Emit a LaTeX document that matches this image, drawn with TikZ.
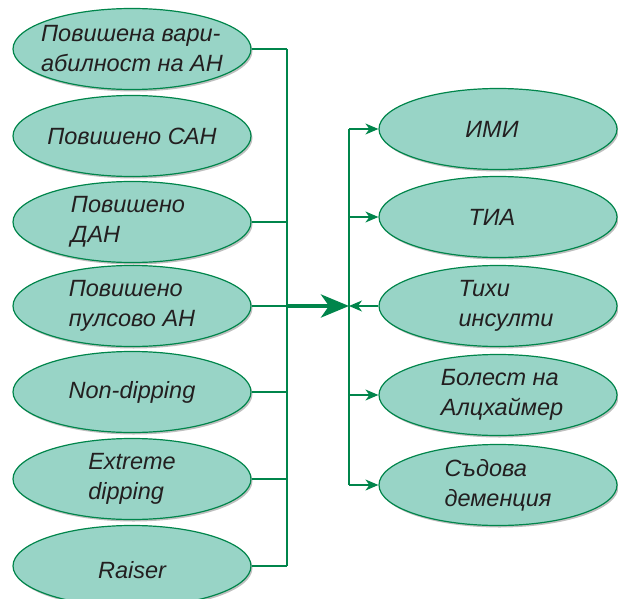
\documentclass[tikz,border=0pt]{standalone}
\usepackage{fontspec}
\setmainfont{Liberation Sans}
\usetikzlibrary{positioning}
\usetikzlibrary{arrows.meta}
\usetikzlibrary{shapes.geometric}
\usetikzlibrary{shadows}
\definecolor{ovalfill}{RGB}{152,212,198}
\definecolor{ovalline}{RGB}{0,133,75}
\definecolor{txt}{RGB}{35,31,32}
\tikzset{oval/.style = {ellipse, draw=ovalline, fill=ovalfill, line width=1.2pt,
                        minimum width=238pt, minimum height=81pt, inner sep=0pt,
                        drop shadow={shadow xshift=1.5pt, shadow yshift=-2pt,
                                     opacity=0.25, fill=black}}}
\tikzset{lbl/.style = {align=left, text=txt, inner sep=0pt,
                       font=\fontsize{23.5}{30}\selectfont\itshape}}
\tikzset{conn/.style = {draw=ovalline, line width=1.3pt}}
\tikzset{tick/.style = {draw=ovalline, line width=2.8pt}}
\tikzset{arr/.style = {conn, -{Stealth[length=13pt, width=11pt, inset=4pt]}}}
\tikzset{bigarr/.style = {draw=ovalline, line width=4.5pt,
                          -{Stealth[length=28pt, width=23pt, inset=8pt]}}}

\begin{document}
\begin{tikzpicture}[x=1pt, y=-1pt]
      \useasboundingbox (0,0) rectangle (618,599);
      % causes
      \node[oval, label={[lbl]center:{Повишена вари-\\абилност на АН}}] (varan) at (132,49) {};
      \node[oval, label={[lbl]center:Повишено САН}] (san) at (132,136) {};
      \node[oval, label={[lbl, xshift=-4pt]center:{Повишено\\ДАН}}] (dan) at (132,222) {};
      \node[oval, label={[lbl]center:{Повишено\\пулсово АН}}] (pulsan) at (132,306) {};
      \node[oval, label={[lbl]center:Non-dipping}] (nondip) at (132,392) {};
      \node[oval, label={[lbl]center:{Extreme\\dipping}}] (extdip) at (132,479) {};
      \node[oval, label={[lbl, yshift=-4pt]center:Raiser}] (raiser) at (132,566) {};
      % outcomes
      \node[oval, label={[lbl, xshift=-6pt]center:ИМИ}] (imi) at (498,129) {};
      \node[oval, label={[lbl, xshift=-6pt]center:ТИА}] (tia) at (498,217) {};
      \node[oval, label={[lbl, xshift=8pt]center:{Тихи\\инсулти}}] (insult) at (498,306) {};
      \node[oval, label={[lbl, xshift=4pt]center:{Болест на\\Алцхаймер}}] (alz) at (498,395) {};
      \node[oval, label={[lbl]center:{Съдова\\деменция}}] (dement) at (498,485) {};
      \coordinate (lbus) at (287,0);
      \coordinate (rbus) at (349,0);
      % left bus
      \draw[conn] (varan.east -| lbus) -- (raiser.east -| lbus);
      \foreach \n in {varan,dan,pulsan,nondip,extdip,raiser}
        \draw[conn] (\n.east) -- (\n.east -| lbus);
      \foreach \n in {dan,nondip,extdip}
        \draw[tick] ([yshift=4pt]\n.east -| lbus) -- ([yshift=-4pt]\n.east -| lbus);
      \draw[tick] ([yshift=12pt]pulsan.east -| lbus) -- ([yshift=-14pt]pulsan.east -| lbus);
      % right bus
      \draw[conn] (imi.west -| rbus) -- (dement.west -| rbus);
      \foreach \n in {imi,tia,alz,dement}
        \draw[arr] (\n.west -| rbus) -- (\n.west);
      \draw[arr] (insult.west) -- (insult.west -| rbus);
      \draw[tick] ([yshift=10pt]insult.west -| rbus) -- ([yshift=-12pt]insult.west -| rbus);
      \draw[tick] ([yshift=8pt]alz.west -| rbus) -- ([yshift=-12pt]alz.west -| rbus);
      % main arrow
      \draw[bigarr] (pulsan.east -| lbus) -- (insult.west -| rbus);
    \end{tikzpicture}
\end{document}
